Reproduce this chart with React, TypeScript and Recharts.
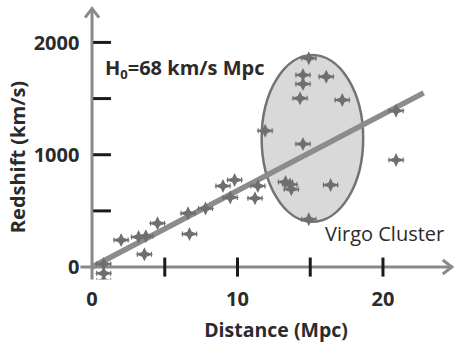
import React from 'react';
import { ComposedChart, Scatter, XAxis, YAxis, ReferenceLine, ReferenceArea } from 'recharts';

const distance = [0.8, 0.8, 0.8, 2.0, 3.2, 3.7, 3.6, 4.5, 6.6, 6.7, 7.8, 9.0, 9.8, 9.5, 11.2, 11.4, 11.9, 14.9, 14.5, 14.5, 14.3, 16.1, 17.2, 14.5, 13.3, 13.7, 13.6, 16.4, 14.9, 20.9, 20.9];
const redshift = [27, -56, -122, 240, 267, 275, 113, 389, 478, 294, 522, 721, 775, 620, 612, 721, 1214, 1859, 1710, 1630, 1502, 1695, 1487, 1095, 757, 692, 735, 730, 425, 1392, 953];

const xTickLabels = [0, 10, 20];
const yTickLabels = [0, 1000, 2000];
const xTickMarks = [5, 10, 15, 20];
const yTickMarks = [500, 1000, 1500, 2000];

const fitSlope = 68;
const fitEnd = 22.8;

const virgoX = [11.66, 18.64];
const virgoY = [403, 1888];

const xDomain = [-0.8, 24.8];
const yDomain = [-110, 2310];

const points = distance.map((d, i) => ({ x: d, y: redshift[i] }));

const AXIS = '#8a8a8a';
const MARK = '#6f6f6f';
const TEXT = '#2b2b2b';
const FONT = '"Open Sans", sans-serif';

const Star = (props: any) => {
  const { cx, cy } = props;
  if (cx == null || cy == null) return null;
  const h = 9, v = 7, i = 2.3;
  const d = `M${cx - h},${cy} L${cx - i},${cy - i} L${cx},${cy - v} L${cx + i},${cy - i} L${cx + h},${cy} L${cx + i},${cy + i} L${cx},${cy + v} L${cx - i},${cy + i} Z`;
  return (
    <g>
      <path d={d} fill={MARK} />
      <line x1={cx - h + 2} y1={cy - 2.5} x2={cx - h + 2} y2={cy + 2.5} stroke={MARK} strokeWidth={1.2} />
      <line x1={cx + h - 2} y1={cy - 2.5} x2={cx + h - 2} y2={cy + 2.5} stroke={MARK} strokeWidth={1.2} />
    </g>
  );
};

const HArrowAxis = (p: any) => (
  <g>
    <line x1={p.x1} y1={p.y1} x2={p.x2} y2={p.y2} stroke={AXIS} strokeWidth={3} />
    <polyline points={`${p.x2 - 10},${p.y2 - 7} ${p.x2 - 1},${p.y2} ${p.x2 - 10},${p.y2 + 7}`} fill="none" stroke={AXIS} strokeWidth={3} />
  </g>
);

const VArrowAxis = (p: any) => {
  const top = Math.min(p.y1, p.y2);
  const bot = Math.max(p.y1, p.y2);
  return (
    <g>
      <line x1={p.x1} y1={top} x2={p.x1} y2={bot} stroke={AXIS} strokeWidth={3} />
      <polyline points={`${p.x1 - 7},${top + 10} ${p.x1},${top + 1} ${p.x1 + 7},${top + 10}`} fill="none" stroke={AXIS} strokeWidth={3} />
    </g>
  );
};

const Ellipse = (p: any) => {
  const { x, y, width, height } = p;
  if (x == null) return null;
  return <ellipse cx={x + width / 2} cy={y + height / 2} rx={width / 2} ry={height / 2} fill="#d9d9d9" stroke="#737373" strokeWidth={2.5} />;
};

export default function App() {
  return (
    <div style={{ position: 'absolute', left: 0, top: 0, width: 456, height: 343, background: '#fff' }}>
      <ComposedChart width={456} height={343} margin={{ top: 7.6, right: 3.2, bottom: 33.6, left: 0 }}>
        <XAxis
          type="number"
          dataKey="x"
          domain={xDomain}
          ticks={xTickLabels}
          allowDataOverflow
          axisLine={false}
          tickLine={false}
          tickSize={0}
          tickMargin={12}
          height={30}
          tick={{ fill: TEXT, fontSize: 20, fontWeight: 700, fontFamily: FONT }}
        />
        <YAxis
          type="number"
          dataKey="y"
          domain={yDomain}
          ticks={yTickLabels}
          allowDataOverflow
          axisLine={false}
          tickLine={false}
          tickSize={0}
          tickMargin={1}
          width={80.4}
          tick={{ fill: TEXT, fontSize: 20, fontWeight: 700, fontFamily: FONT }}
        />
        <ReferenceArea x1={virgoX[0]} x2={virgoX[1]} y1={virgoY[0]} y2={virgoY[1]} shape={Ellipse} ifOverflow="visible" />
        <ReferenceLine y={0} shape={HArrowAxis} />
        <ReferenceLine x={0} shape={VArrowAxis} />
        {xTickMarks.map((t) => (
          <ReferenceLine key={'xt' + t} segment={[{ x: t, y: -85 }, { x: t, y: 85 }]} stroke="#1a1a1a" strokeWidth={3} />
        ))}
        {yTickMarks.map((t) => (
          <ReferenceLine key={'yt' + t} segment={[{ x: 0.08, y: t }, { x: 1.3, y: t }]} stroke="#1a1a1a" strokeWidth={3} />
        ))}
        <Scatter data={points} shape={Star} isAnimationActive={false} />
        <ReferenceLine segment={[{ x: 0, y: 0 }, { x: fitEnd, y: fitSlope * fitEnd }]} stroke="#8c8c8c" strokeWidth={5.5} />
      </ComposedChart>
      <svg width={456} height={343} style={{ position: 'absolute', left: 0, top: 0, pointerEvents: 'none' }}>
        <text x={17} y={157} transform="rotate(-90 17 157)" textAnchor="middle" dominantBaseline="central" fill={TEXT} fontSize={20} fontWeight={700} fontFamily={FONT}>
          Redshift (km/s)
        </text>
        <text x={276} y={337} textAnchor="middle" fill={TEXT} fontSize={19.5} fontWeight={700} fontFamily={FONT}>
          Distance (Mpc)
        </text>
        <text x={105} y={75} fill={TEXT} fontSize={20} fontWeight={700} fontFamily={FONT}>
          <tspan>H</tspan>
          <tspan dy={4} fontSize={13}>0</tspan>
          <tspan dy={-4}>=68 km/s Mpc</tspan>
        </text>
        <text x={325} y={241} fill={TEXT} fontSize={20} fontFamily={FONT}>
          Virgo Cluster
        </text>
      </svg>
    </div>
  );
}
